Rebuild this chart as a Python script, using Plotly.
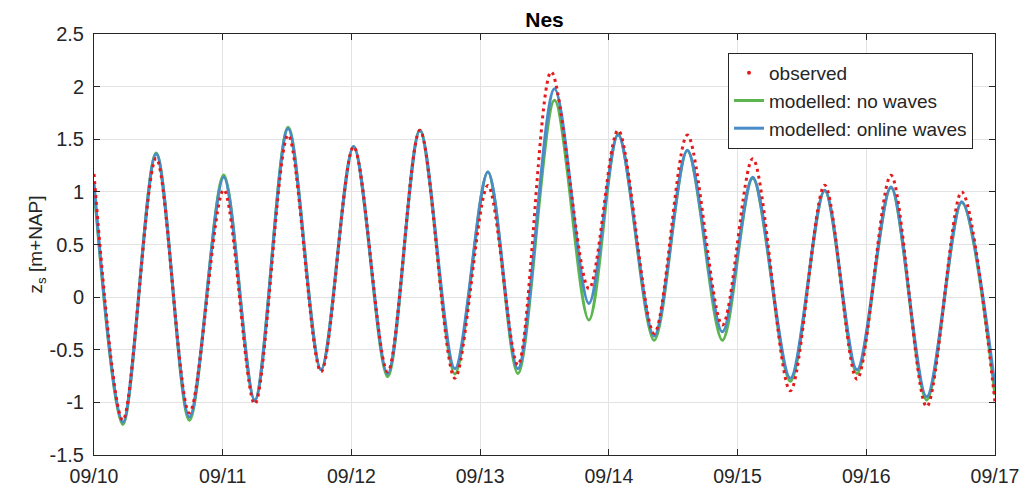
import pandas as pd
import plotly.graph_objects as go

# ---- data (times in days after 09/10 00:00, water level in m+NAP) ----
obs_days = [0.0, 0.224, 0.483, 0.741, 1.008, 1.249, 1.508, 1.764, 2.017, 2.281, 2.532, 2.804,
            3.06, 3.293, 3.552, 3.845, 4.072, 4.352, 4.61, 4.882, 5.118, 5.41, 5.677, 5.928,
            6.192, 6.469, 6.741, 7.0]
obs_level = [1.17, -1.17, 1.32, -1.10, 1.02, -1.015, 1.54, -0.71, 1.43, -0.71, 1.585, -0.77,
             1.06, -0.645, 2.14, 0.08, 1.585, -0.345, 1.54, -0.265, 1.315, -0.89, 1.063, -0.78,
             1.157, -1.04, 1.0, -1.0]

mod_days = [0.0, 0.224, 0.483, 0.741, 1.008, 1.249, 1.508, 1.764, 2.017, 2.281, 2.532, 2.804,
            3.06, 3.293, 3.578, 3.845, 4.072, 4.352, 4.61, 4.882, 5.118, 5.41, 5.677, 5.928,
            6.192, 6.469, 6.741, 7.0]
nowaves_level = [1.05, -1.21, 1.37, -1.17, 1.16, -0.98, 1.615, -0.69, 1.43, -0.756, 1.585, -0.73,
                 1.19, -0.725, 1.87, -0.218, 1.55, -0.41, 1.39, -0.41, 1.13, -0.80, 1.01, -0.725,
                 1.04, -0.977, 0.90, -0.93]
online_level = [1.08, -1.19, 1.36, -1.14, 1.14, -0.98, 1.60, -0.69, 1.43, -0.73, 1.585, -0.68,
                1.19, -0.68, 1.98, -0.06, 1.54, -0.37, 1.395, -0.33, 1.14, -0.77, 1.015, -0.69,
                1.047, -0.946, 0.905, -0.85]

tick_days = [0, 1, 2, 3, 4, 5, 6, 7]
tick_labels = ["09/10", "09/11", "09/12", "09/13", "09/14", "09/15", "09/16", "09/17"]
y_ticks = [-1.5, -1, -0.5, 0, 0.5, 1, 1.5, 2, 2.5]
y_tick_labels = ["-1.5", "-1", "-0.5", "0", "0.5", "1", "1.5", "2", "2.5"]

base = pd.Timestamp("2015-09-10")
def to_time(days):
    return base + pd.to_timedelta(days, unit="D")

RED = "#e41a1c"
GREEN = "#5cb54e"
BLUE = "#4a8cc8"
AX = "#262626"
FONT = "Liberation Sans, Arial, Helvetica, sans-serif"

fig = go.Figure()
fig.add_trace(go.Scatter(x=to_time(mod_days), y=nowaves_level, mode="lines",
                         line=dict(color=GREEN, width=3, shape="spline", smoothing=0.9),
                         name="modelled: no waves", legendrank=2))
fig.add_trace(go.Scatter(x=to_time(mod_days), y=online_level, mode="lines",
                         line=dict(color=BLUE, width=3, shape="spline", smoothing=0.9),
                         name="modelled: online waves", legendrank=3))
fig.add_trace(go.Scatter(x=to_time(obs_days), y=obs_level, mode="lines",
                         line=dict(color=RED, width=3, shape="spline", smoothing=0.9, dash="3px,4px"),
                         name="observed", showlegend=False))
# legend entry for the observed series (single dot, as in the original)
fig.add_trace(go.Scatter(x=[None], y=[None], mode="markers",
                         marker=dict(color=RED, size=4), name="observed", legendrank=1))

fig.update_layout(
    width=1026, height=491,
    margin=dict(l=94, r=31, t=34, b=36),
    paper_bgcolor="white", plot_bgcolor="white",
    font=dict(family=FONT, size=19, color=AX),
    title=dict(text="<b>Nes</b>", x=0.5, xref="paper", xanchor="center",
               y=0.96, yref="container", yanchor="middle",
               font=dict(size=21, color="#000000")),
    showlegend=True,
    legend=dict(x=0.9756, y=0.955, xanchor="right", yanchor="top",
                bgcolor="white", bordercolor=AX, borderwidth=1,
                font=dict(size=19, color=AX), tracegroupgap=0),
)
fig.update_xaxes(
    range=[to_time(0), to_time(7)],
    tickvals=list(to_time(tick_days)), ticktext=tick_labels,
    ticks="inside", ticklen=6, tickcolor=AX, tickwidth=1,
    showline=True, linecolor=AX, linewidth=1, mirror="ticks",
    showgrid=True, gridcolor="#e3e3e3", gridwidth=1, zeroline=False,
    tickfont=dict(size=19.5), ticklabelstandoff=4, automargin=False,
)
fig.update_yaxes(
    range=[-1.5, 2.5], tickvals=y_ticks, ticktext=y_tick_labels,
    ticks="inside", ticklen=6, tickcolor=AX, tickwidth=1,
    showline=True, linecolor=AX, linewidth=1, mirror="ticks",
    showgrid=True, gridcolor="#e3e3e3", gridwidth=1, zeroline=False,
    tickfont=dict(size=20), ticklabelstandoff=5, automargin=False,
    title=dict(text="z<sub>s</sub> [m+NAP]", font=dict(size=19), standoff=1),
)

fig.write_html("out.html")
